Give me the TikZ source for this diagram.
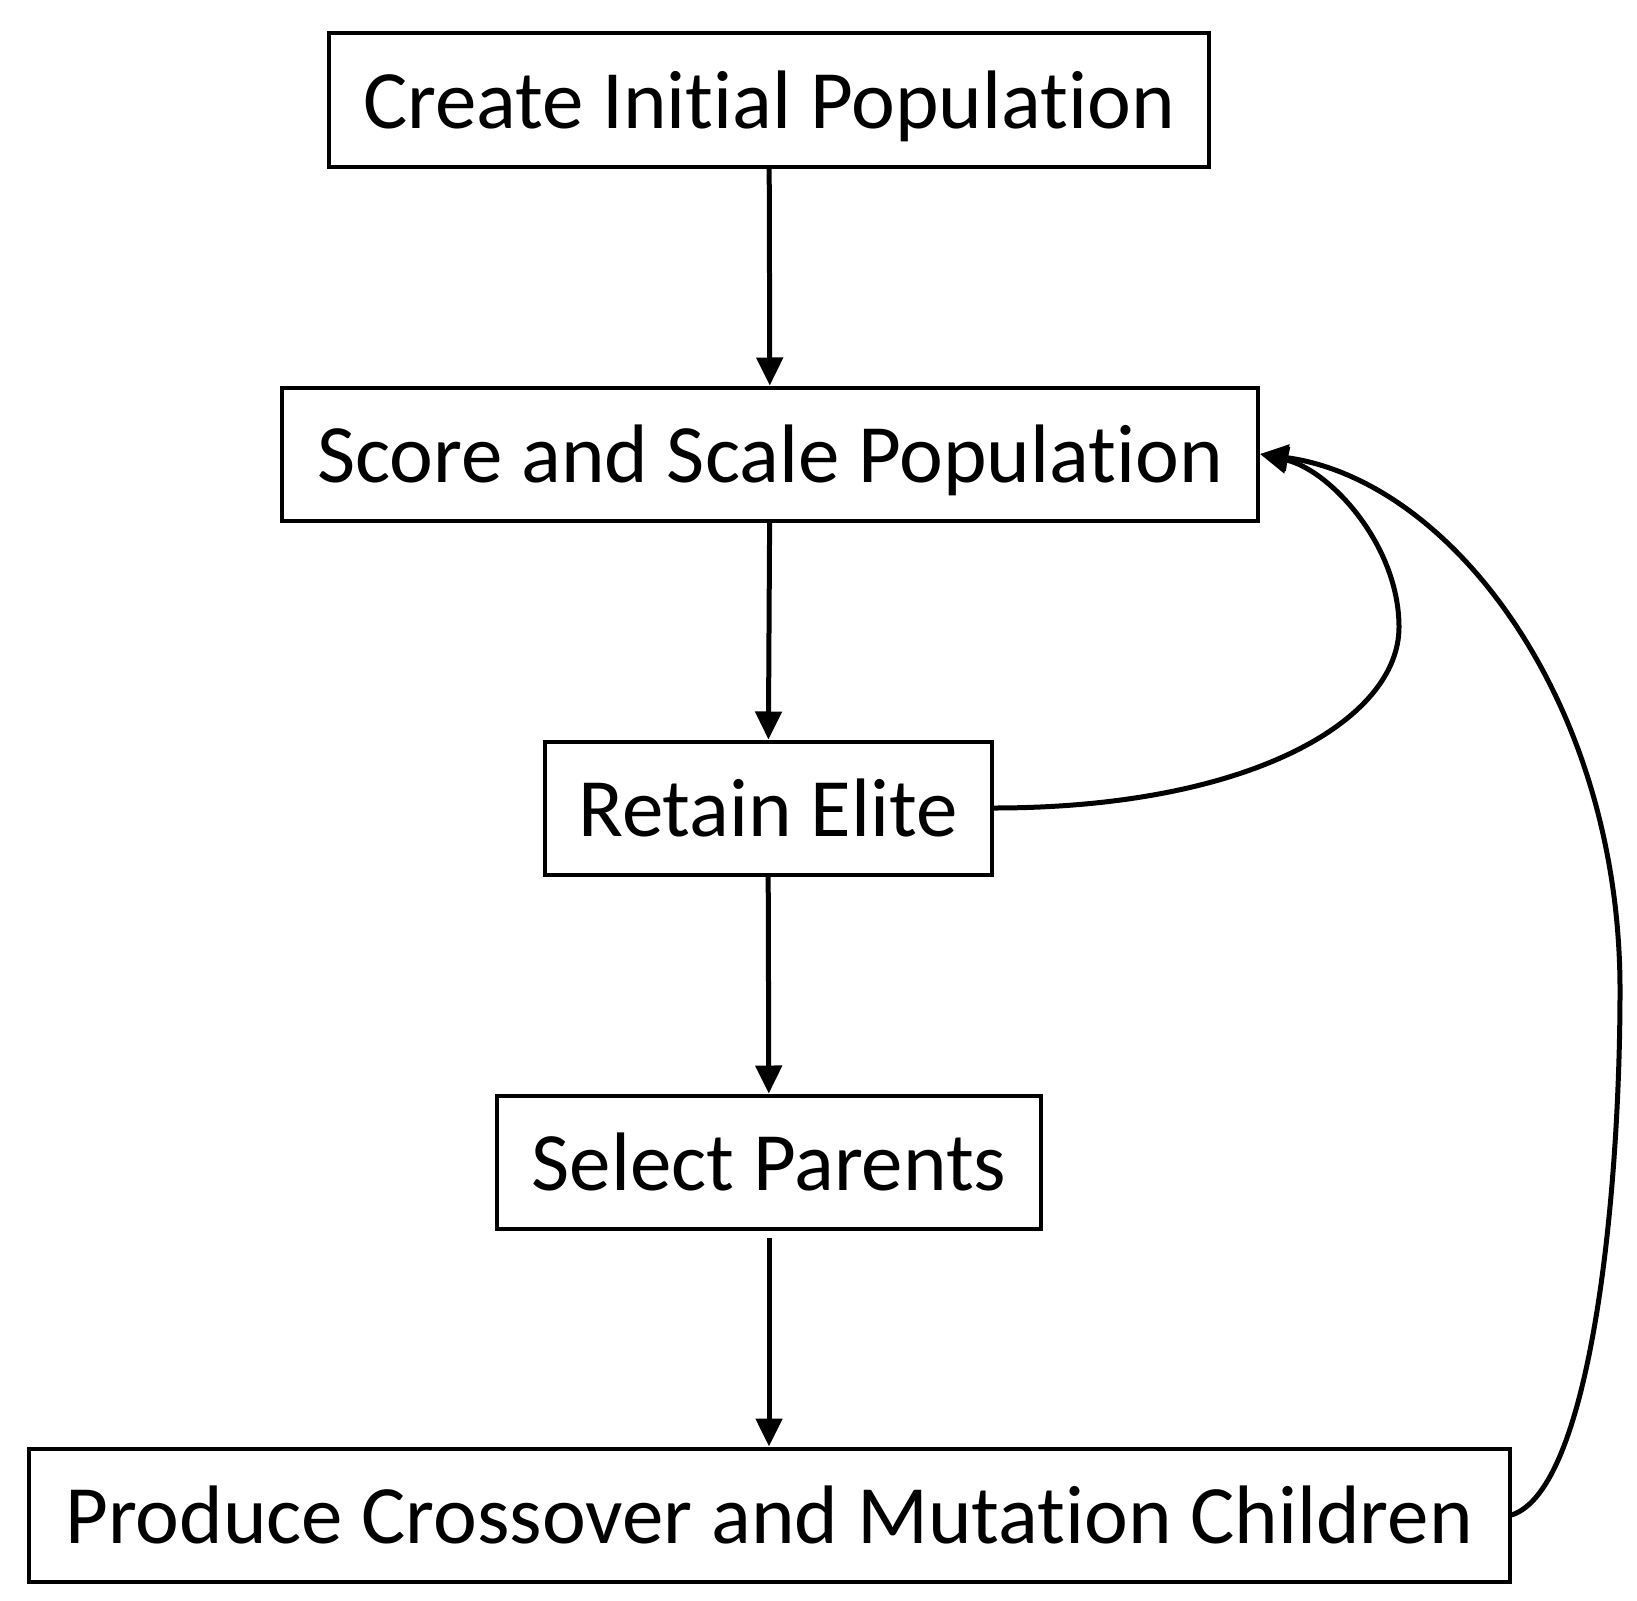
\documentclass[tikz,border=0pt]{standalone}
\usepackage{fontspec}
\setmainfont{Carlito}[Ligatures={NoCommon,NoRare}]
\usepackage{tikz}
\usetikzlibrary{arrows.meta}

\tikzset{
    stepbox/.style={draw, line width=4pt, minimum height=133pt, inner sep=0pt,
        text height=57pt, text depth=0pt,
        font=\fontsize{83}{90}\selectfont},
    flow/.style={line width=5pt, -{Triangle[length=28pt,width=26pt]}}
}

\begin{document}
\begin{tikzpicture}[x=1pt,y=-1pt]

            \useasboundingbox (0,0) rectangle (1637,1600);

            \node[stepbox, minimum width=880pt] (create) at (769,100) {Create Initial Population};
            \node[stepbox, minimum width=976pt] (score) at (770,454) {Score and Scale Population};
            \node[stepbox, minimum width=447pt] (elite) at (768,808) {Retain Elite};
            \node[stepbox, minimum width=544pt] (parents) at (769,1162) {Select Parents};
            \node[stepbox, minimum width=1481pt] (children) at (769,1515) {Produce Crossover and Mutation Children};

            \coordinate (gap) at (769,1238);

            \draw[flow] (create) -- (score);
            \draw[flow] (score) -- (elite);
            \draw[flow] (elite) -- (parents);
            \draw[flow] (gap) -- (children);

            % loops back to scoring
            \draw[flow] (elite.east) .. controls (1250,808) and (1399,720) .. (1399,627)
                .. controls (1399,545) and (1330,470) .. (score.east);
            \draw[flow] (children.east) .. controls (1590,1490) and (1620,1200) .. (1620,990)
                .. controls (1620,700) and (1450,480) .. (score.east);

\end{tikzpicture}
\end{document}
